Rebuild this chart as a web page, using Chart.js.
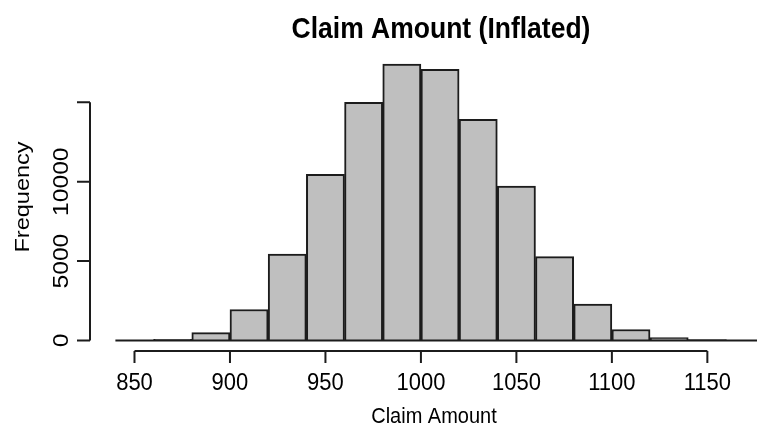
<!DOCTYPE html>
<html>
<head>
<meta charset="utf-8">
<script src="https://cdn.jsdelivr.net/npm/chart.js@4.4.1/dist/chart.umd.min.js"></script>
<style>
    html, body { margin: 0; padding: 0; background: #ffffff; }
    #wrap { width: 757px; height: 426px; }
</style>
</head>
<body>
<div id="wrap"><canvas id="hist" width="757" height="426"></canvas></div>
<script>
// Histogram data (bin width 20)
const binStarts = [860, 880, 900, 920, 940, 960, 980, 1000, 1020, 1040, 1060, 1080, 1100, 1120, 1140];
const counts = [80, 500, 1950, 5450, 10460, 15000, 17410, 17080, 13930, 9720, 5280, 2290, 690, 190, 60];
const binWidth = 20;

// Axis ticks (R style: top y tick has no label)
const xTicks = [850, 900, 950, 1000, 1050, 1100, 1150];
const yTicks = [0, 5000, 10000, 15000];
const yTickLabels = ['0', '5000', '10000', ''];

const titleText = 'Claim Amount (Inflated)';
const xTitle = 'Claim Amount';
const yTitle = 'Frequency';

const FONT = "'Liberation Sans', Arial, Helvetica, sans-serif";
const INK = '#1c1c1c';
const STRETCH = 1.12; // reference text looks slightly stretched vertically

// Draws R-like detached axes, baseline and labels using the chart scales
const rAxesPlugin = {
    id: 'rAxes',
    afterDatasetsDraw(chart) {
        const ctx = chart.ctx;
        const xs = chart.scales.x;
        const ys = chart.scales.y;
        const area = chart.chartArea;
        const y0 = ys.getPixelForValue(0);

        ctx.save();
        ctx.strokeStyle = INK;
        ctx.lineWidth = 2;
        ctx.lineCap = 'butt';

        // baseline under the bars
        ctx.beginPath();
        ctx.moveTo(area.left, y0);
        ctx.lineTo(area.right, y0);
        ctx.stroke();

        // x axis
        const axY = 351;
        const xa = xs.getPixelForValue(xTicks[0]);
        const xb = xs.getPixelForValue(xTicks[xTicks.length - 1]);
        ctx.beginPath();
        ctx.moveTo(xa, axY);
        ctx.lineTo(xb, axY);
        xTicks.forEach(v => {
            const px = xs.getPixelForValue(v);
            ctx.moveTo(px, axY);
            ctx.lineTo(px, axY + 12);
        });
        ctx.stroke();

        // y axis
        const axX = 90;
        ctx.beginPath();
        ctx.moveTo(axX, ys.getPixelForValue(yTicks[0]));
        ctx.lineTo(axX, ys.getPixelForValue(yTicks[yTicks.length - 1]));
        yTicks.forEach(v => {
            const py = ys.getPixelForValue(v);
            ctx.moveTo(axX - 13, py);
            ctx.lineTo(axX, py);
        });
        ctx.stroke();

        // text, slightly stretched vertically
        ctx.fillStyle = '#000000';
        ctx.scale(1, STRETCH);
        ctx.textBaseline = 'alphabetic';
        ctx.textAlign = 'center';

        ctx.font = 'bold 26.5px ' + FONT;
        ctx.fillText(titleText, 441, 37.5 / STRETCH);

        ctx.font = '22px ' + FONT;
        xTicks.forEach(v => {
            ctx.fillText(String(v), xs.getPixelForValue(v), 390 / STRETCH);
        });

        ctx.font = '20px ' + FONT;
        ctx.fillText(xTitle, 434, 423 / STRETCH);

        ctx.font = '22px ' + FONT;
        yTicks.forEach((v, i) => {
            if (!yTickLabels[i]) return;
            ctx.save();
            ctx.translate(68, ys.getPixelForValue(v) / STRETCH);
            ctx.rotate(-Math.PI / 2);
            ctx.fillText(yTickLabels[i], 0, 0);
            ctx.restore();
        });

        ctx.font = '21px ' + FONT;
        ctx.save();
        ctx.translate(29, 197 / STRETCH);
        ctx.rotate(-Math.PI / 2);
        ctx.fillText(yTitle, 0, 0);
        ctx.restore();

        ctx.restore();
    }
};

const histData = binStarts.map((b, i) => ({ x: b + binWidth / 2, y: counts[i] }));

new Chart(document.getElementById('hist'), {
    type: 'bar',
    data: {
        datasets: [{
            data: histData,
            backgroundColor: '#bfbfbf',
            borderColor: INK,
            borderWidth: 2,
            borderSkipped: 'start',
            barPercentage: 1.0,
            categoryPercentage: 1.0
        }]
    },
    options: {
        responsive: false,
        animation: false,
        layout: {
            padding: { left: 115.4, right: 0, top: 54.7, bottom: 85.5 }
        },
        plugins: {
            legend: { display: false },
            tooltip: { enabled: false },
            title: { display: false }
        },
        scales: {
            x: {
                type: 'linear',
                min: 840,
                max: 1176,
                offset: false,
                display: false
            },
            y: {
                min: 0,
                max: 18000,
                display: false
            }
        }
    },
    plugins: [rAxesPlugin]
});
</script>
</body>
</html>
